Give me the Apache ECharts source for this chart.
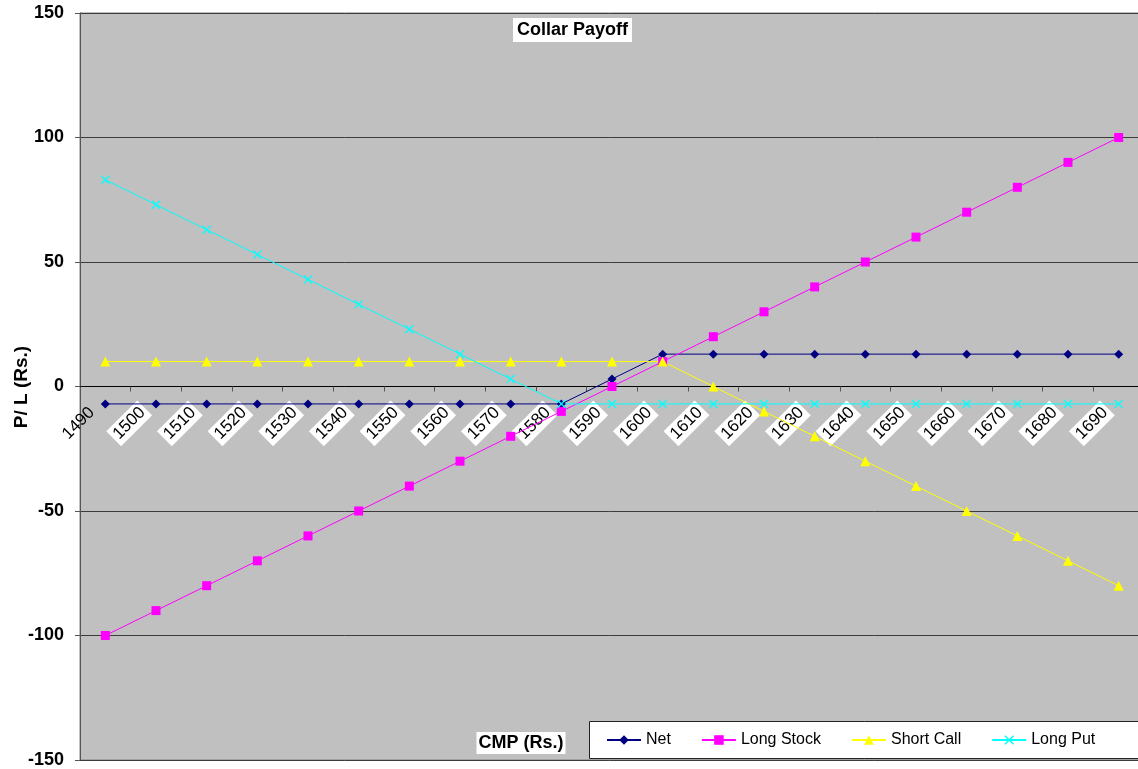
<!DOCTYPE html>
<html>
<head>
<meta charset="utf-8">
<title>Collar Payoff</title>
<script src="https://cdn.jsdelivr.net/npm/echarts@6/dist/echarts.min.js"></script>
<style>
  html, body { margin: 0; padding: 0; background: #ffffff; }
  #chart { width: 1138px; height: 769px; }
</style>
</head>
<body>
<div id="chart"></div>
<script>
// Stock price at expiry (CMP) and the payoff of each leg of the collar
const prices = ['1490', '1500', '1510', '1520', '1530', '1540', '1550', '1560', '1570', '1580', '1590',
                '1600', '1610', '1620', '1630', '1640', '1650', '1660', '1670', '1680', '1690'];
const net = [-7, -7, -7, -7, -7, -7, -7, -7, -7, -7, 3, 13, 13, 13, 13, 13, 13, 13, 13, 13, 13];
const longStock = [-100, -90, -80, -70, -60, -50, -40, -30, -20, -10, 0, 10, 20, 30, 40, 50, 60, 70, 80, 90, 100];
const shortCall = [10, 10, 10, 10, 10, 10, 10, 10, 10, 10, 10, 10, 0, -10, -20, -30, -40, -50, -60, -70, -80];
const longPut = [83, 73, 63, 53, 43, 33, 23, 13, 3, -7, -7, -7, -7, -7, -7, -7, -7, -7, -7, -7, -7];
const yTicks = { min: -150, max: 150, step: 50 };

const FONT = '"Liberation Sans", Arial, sans-serif';
const crossPath = 'path://M0,1L1,0L5,4L9,0L10,1L6,5L10,9L9,10L5,6L1,10L0,9L4,5Z';

const GRID = { left: 80, top: 13, width: 1064, height: 747 };
// the value range is symmetric, so the zero line sits half way up the plot
const zeroOffset = -GRID.height * (0 - yTicks.min) / (yTicks.max - yTicks.min);

function lineSeries(name, data, color, symbol, size) {
  return {
    name: name,
    type: 'line',
    data: data,
    symbol: symbol,
    symbolSize: size,
    showAllSymbol: true,
    lineStyle: { color: color, width: 1 },
    itemStyle: { color: color, borderWidth: 0 },
    emphasis: { disabled: true }
  };
}

const chart = echarts.init(document.getElementById('chart'));
chart.setOption({
  animation: false,
  backgroundColor: '#ffffff',
  textStyle: { fontFamily: FONT },
  title: {
    text: 'Collar Payoff',
    left: 513,
    top: 18,
    padding: [3, 4],
    backgroundColor: '#ffffff',
    textStyle: { fontFamily: FONT, fontSize: 18, fontWeight: 'bold', color: '#000000' }
  },
  grid: {
    left: GRID.left,
    top: GRID.top,
    width: GRID.width,
    height: GRID.height,
    show: true,
    backgroundColor: '#c0c0c0',
    borderColor: '#808080',
    borderWidth: 1,
    containLabel: false,
    outerBoundsMode: 'none'
  },
  xAxis: {
    type: 'category',
    data: prices,
    boundaryGap: true,
    position: 'bottom',
    offset: zeroOffset,
    axisLine: { onZero: false, lineStyle: { color: '#000000', width: 1 } },
    axisTick: { show: true, alignWithLabel: false, interval: 0, length: 5, lineStyle: { color: '#555555' } },
    splitLine: { show: false },
    axisLabel: {
      interval: 0,
      rotate: 45,
      margin: 10,
      padding: [0, 16, 0, 0],
      formatter: function (v, i) { return (i === 0 ? '{p|' : '{b|') + v + '}'; },
      rich: {
        b: { fontFamily: FONT, fontSize: 17, color: '#000000', backgroundColor: '#ffffff', padding: [2, 3] },
        p: { fontFamily: FONT, fontSize: 17, color: '#000000', padding: [2, 3] }
      }
    }
  },
  yAxis: {
    type: 'value',
    min: yTicks.min,
    max: yTicks.max,
    interval: yTicks.step,
    axisLine: { show: true, lineStyle: { color: '#555555', width: 1 } },
    axisTick: { show: true, length: 5, lineStyle: { color: '#555555' } },
    splitLine: { show: true, lineStyle: { color: '#3c3c3c', width: 1 } },
    axisLabel: { margin: 16, fontFamily: FONT, fontSize: 18, fontWeight: 'bold', color: '#000000' }
  },
  legend: {
    left: 589,
    top: 721,
    padding: [11, 10, 11, 17],
    itemGap: 30,
    itemWidth: 34,
    itemHeight: 12,
    textStyle: { fontFamily: FONT, fontSize: 16, color: '#000000' },
    data: ['Net', 'Long Stock', 'Short Call', 'Long Put']
  },
  graphic: [
    {
      // legend frame, running on past the right edge of the chart
      type: 'rect',
      z: 3,
      shape: { x: 589.5, y: 721.5, width: 600, height: 37 },
      style: { fill: '#ffffff', stroke: '#222222', lineWidth: 1 }
    },
    {
      type: 'text',
      x: 22,
      y: 387,
      rotation: Math.PI / 2,
      style: {
        text: 'P/ L (Rs.)',
        fontFamily: FONT,
        fontSize: 19,
        fontWeight: 'bold',
        fill: '#000000',
        align: 'center',
        verticalAlign: 'middle'
      }
    },
    {
      type: 'text',
      x: 521,
      y: 743,
      style: {
        text: 'CMP (Rs.)',
        fontFamily: FONT,
        fontSize: 18,
        fontWeight: 'bold',
        fill: '#000000',
        align: 'center',
        verticalAlign: 'middle',
        backgroundColor: '#ffffff',
        padding: [2, 2]
      }
    }
  ],
  series: [
    lineSeries('Net', net, '#000080', 'diamond', 9),
    lineSeries('Long Stock', longStock, '#ff00ff', 'rect', 9),
    lineSeries('Short Call', shortCall, '#ffff00', 'triangle', 10),
    lineSeries('Long Put', longPut, '#00ffff', crossPath, 9)
  ]
});
</script>
</body>
</html>
